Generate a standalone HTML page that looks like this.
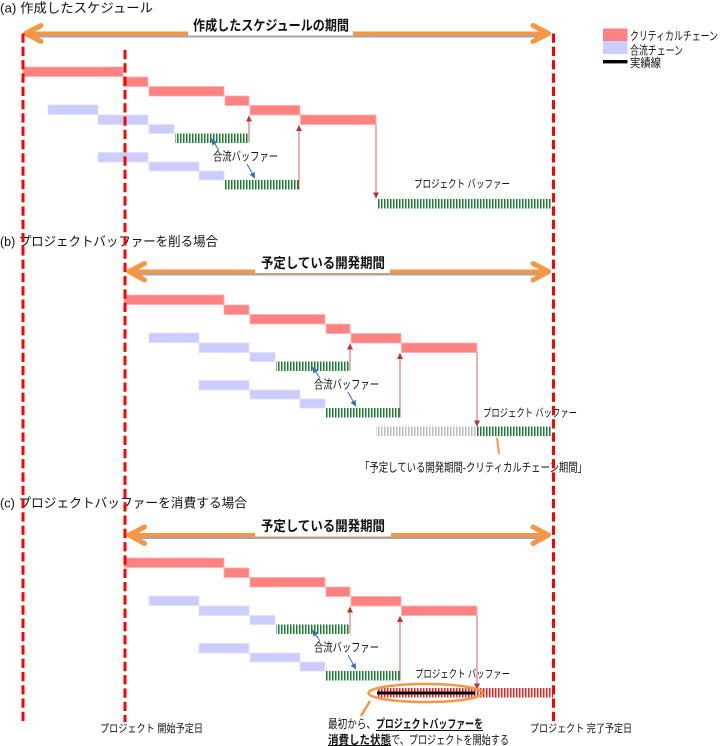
<!DOCTYPE html>
<html><head><meta charset="utf-8">
<style>
html,body{margin:0;padding:0;background:#fff;width:720px;height:746px;overflow:hidden}
svg{display:block}
text{font-family:"Liberation Sans","Noto Sans CJK JP",sans-serif;fill:#111}
</style></head>
<body>
<svg width="720" height="746" viewBox="0 0 720 746" xmlns="http://www.w3.org/2000/svg">
<defs>
  <pattern id="pg" width="3" height="20" patternUnits="userSpaceOnUse"><rect x="0" y="0" width="1.5" height="20" fill="#1b7a33"/></pattern>
  <pattern id="pgr" width="3" height="20" patternUnits="userSpaceOnUse"><rect x="0" y="0" width="1.5" height="20" fill="#bdbdbd"/></pattern>
  <pattern id="prd" width="3" height="20" patternUnits="userSpaceOnUse"><rect x="0" y="0" width="1.5" height="20" fill="#ff1a1a"/></pattern>
  <marker id="mr" viewBox="0 0 10 10" refX="10" refY="5" markerWidth="6" markerHeight="6" orient="auto"><path d="M0,0L10,5L0,10z" fill="#b83434"/></marker>
  <marker id="mb" viewBox="0 0 10 10" refX="10" refY="5" markerWidth="6" markerHeight="6" orient="auto"><path d="M0,0L10,5L0,10z" fill="#3a6fb8"/></marker>

  <g id="grp">
    <!-- critical chain -->
    <g fill="#ff8282" stroke="#ffb0b0" stroke-width="0.8">
      <rect x="23" y="67" width="100" height="9.5"/>
      <rect x="123" y="77" width="25" height="9.5"/>
      <rect x="149" y="86.5" width="75" height="9.5"/>
      <rect x="225" y="96" width="24" height="9.5"/>
      <rect x="250" y="105.5" width="50" height="9.5"/>
      <rect x="300.5" y="115" width="75.5" height="9.5"/>
    </g>
    <!-- feeding chains -->
    <g fill="#ccccff" stroke="#dedeff" stroke-width="0.8">
      <rect x="48" y="105" width="50" height="9.5"/>
      <rect x="98" y="115" width="50" height="9.5"/>
      <rect x="149" y="124.5" width="25" height="9"/>
      <rect x="98" y="152.5" width="50" height="9.5"/>
      <rect x="149" y="162" width="50" height="9"/>
      <rect x="199" y="171" width="25" height="9"/>
    </g>
    <!-- feeding buffers -->
    <rect x="175" y="133.5" width="74" height="9.5" fill="url(#pg)"/>
    <rect x="224" y="180" width="75" height="9.5" fill="url(#pg)"/>
    <!-- red arrows -->
    <line x1="249" y1="142.5" x2="249" y2="115.5" stroke="#d86060" stroke-width="1" marker-end="url(#mr)"/>
    <line x1="299" y1="189.5" x2="299" y2="125" stroke="#d86060" stroke-width="1" marker-end="url(#mr)"/>
    <line x1="376" y1="124.5" x2="376" y2="198.5" stroke="#d86060" stroke-width="1" marker-end="url(#mr)"/>
    <!-- label -->
    <text x="213" y="160.5" font-size="12" textLength="65" lengthAdjust="spacingAndGlyphs">合流バッファー</text>
    <line x1="219" y1="150" x2="211.5" y2="139" stroke="#3a6fb8" stroke-width="1" marker-end="url(#mb)"/>
    <line x1="247" y1="164" x2="255" y2="178.5" stroke="#3a6fb8" stroke-width="1" marker-end="url(#mb)"/>
  </g>
</defs>

<!-- titles -->
<text x="0" y="12.5" font-size="13" textLength="153" lengthAdjust="spacingAndGlyphs">(a) 作成したスケジュール</text>
<text x="0" y="246" font-size="13" textLength="218" lengthAdjust="spacingAndGlyphs">(b) プロジェクトバッファーを削る場合</text>
<text x="0" y="507.5" font-size="13" textLength="247" lengthAdjust="spacingAndGlyphs">(c) プロジェクトバッファーを消費する場合</text>

<!-- legend -->
<rect x="603" y="28.5" width="24.5" height="12.5" fill="#ff8282"/>
<rect x="603" y="41" width="24.5" height="13" fill="#ccccff"/>
<line x1="603" y1="61.5" x2="627.5" y2="61.5" stroke="#000" stroke-width="3"/>
<line x1="603" y1="63.5" x2="627.5" y2="63.5" stroke="#999" stroke-width="1"/>
<text x="630" y="40" font-size="12" textLength="88" lengthAdjust="spacingAndGlyphs">クリティカルチェーン</text>
<text x="630" y="54.5" font-size="12" textLength="53" lengthAdjust="spacingAndGlyphs">合流チェーン</text>
<text x="630" y="67" font-size="12" textLength="31" lengthAdjust="spacingAndGlyphs">実績線</text>

<!-- orange period arrows -->
<g stroke-linecap="round" stroke-linejoin="round" fill="none">
  <!-- a -->
  <line x1="29" y1="36.5" x2="546" y2="36.5" stroke="#a6a6a6" stroke-width="2"/>
  <line x1="27" y1="33.5" x2="547" y2="33.5" stroke="#f79646" stroke-width="4"/>
  <polyline points="41,25.5 25.5,33.5 41,41.5" stroke="#f79646" stroke-width="5"/>
  <polyline points="533,25.5 548.5,33.5 533,41.5" stroke="#f79646" stroke-width="5"/>
  <!-- b -->
  <line x1="132" y1="274.5" x2="546" y2="274.5" stroke="#a6a6a6" stroke-width="2"/>
  <line x1="130" y1="271.5" x2="547" y2="271.5" stroke="#f79646" stroke-width="4"/>
  <polyline points="144.5,263.5 129,271.5 144.5,280" stroke="#f79646" stroke-width="5"/>
  <polyline points="533,263.5 548.5,271.5 533,280" stroke="#f79646" stroke-width="5"/>
  <!-- c -->
  <line x1="132" y1="538" x2="546" y2="538" stroke="#a6a6a6" stroke-width="2"/>
  <line x1="130" y1="535" x2="547" y2="535" stroke="#f79646" stroke-width="4"/>
  <polyline points="144.5,527 129,535 144.5,543.5" stroke="#f79646" stroke-width="5"/>
  <polyline points="533,527 548.5,535 533,543.5" stroke="#f79646" stroke-width="5"/>
</g>
<rect x="188" y="16" width="165" height="19.5" fill="#fff"/>
<rect x="255" y="253.5" width="135" height="19.5" fill="#fff"/>
<rect x="255" y="517" width="136" height="19.5" fill="#fff"/>
<text x="193" y="30.5" font-size="14" font-weight="bold" textLength="156" lengthAdjust="spacingAndGlyphs">作成したスケジュールの期間</text>
<text x="261" y="268" font-size="14" font-weight="bold" textLength="124" lengthAdjust="spacingAndGlyphs">予定している開発期間</text>
<text x="261" y="531" font-size="14" font-weight="bold" textLength="124" lengthAdjust="spacingAndGlyphs">予定している開発期間</text>

<!-- schedule groups -->
<use href="#grp"/>
<use href="#grp" transform="translate(101,228)"/>
<use href="#grp" transform="translate(101,491)"/>

<!-- project buffers -->
<rect x="377" y="199" width="175" height="9.5" fill="url(#pg)"/>
<text x="414" y="187.5" font-size="11" textLength="96" lengthAdjust="spacingAndGlyphs">プロジェクト バッファー</text>

<rect x="376" y="426.5" width="100" height="9.5" fill="url(#pgr)"/>
<rect x="477" y="426.5" width="75" height="9.5" fill="url(#pg)"/>
<text x="483" y="416.5" font-size="11" textLength="94" lengthAdjust="spacingAndGlyphs">プロジェクト バッファー</text>
<line x1="497" y1="438" x2="499" y2="454" stroke="#f79646" stroke-width="2"/>
<text x="360" y="471.5" font-size="12" textLength="227" lengthAdjust="spacingAndGlyphs">「予定している開発期間-クリティカルチェーン期間」</text>

<rect x="377" y="688" width="176" height="9.5" fill="url(#prd)"/>
<line x1="377" y1="693" x2="475" y2="693" stroke="#000" stroke-width="3"/>
<text x="415" y="677.5" font-size="11" textLength="95" lengthAdjust="spacingAndGlyphs">プロジェクト バッファー</text>
<ellipse cx="425.5" cy="693" rx="57" ry="9" fill="none" stroke="#f79646" stroke-width="2.5"/>
<line x1="370" y1="701" x2="361" y2="716" stroke="#f79646" stroke-width="2.5"/>

<!-- dashed date lines -->
<g stroke="#ff0000" stroke-width="3" stroke-dasharray="9.3 4" fill="none">
  <line x1="23" y1="33.5" x2="23" y2="723"/>
  <line x1="125" y1="50" x2="125" y2="722"/>
  <line x1="553.5" y1="33.5" x2="553.5" y2="722"/>
</g>

<!-- bottom labels -->
<text x="100" y="732" font-size="11" textLength="103" lengthAdjust="spacingAndGlyphs">プロジェクト 開始予定日</text>
<text x="530" y="732" font-size="11" textLength="102" lengthAdjust="spacingAndGlyphs">プロジェクト 完了予定日</text>

<text x="328" y="728" font-size="12" textLength="48" lengthAdjust="spacingAndGlyphs">最初から、</text>
<text x="376" y="728" font-size="12" font-weight="bold" textLength="107" lengthAdjust="spacingAndGlyphs">プロジェクトバッファーを</text>
<line x1="376" y1="730.5" x2="483" y2="730.5" stroke="#111" stroke-width="1"/>
<text x="328" y="744" font-size="12" font-weight="bold" textLength="63" lengthAdjust="spacingAndGlyphs">消費した状態</text>
<line x1="328" y1="745.5" x2="391" y2="745.5" stroke="#111" stroke-width="1"/>
<text x="391" y="744" font-size="12" textLength="118" lengthAdjust="spacingAndGlyphs">で、プロジェクトを開始する</text>
</svg>
</body></html>
